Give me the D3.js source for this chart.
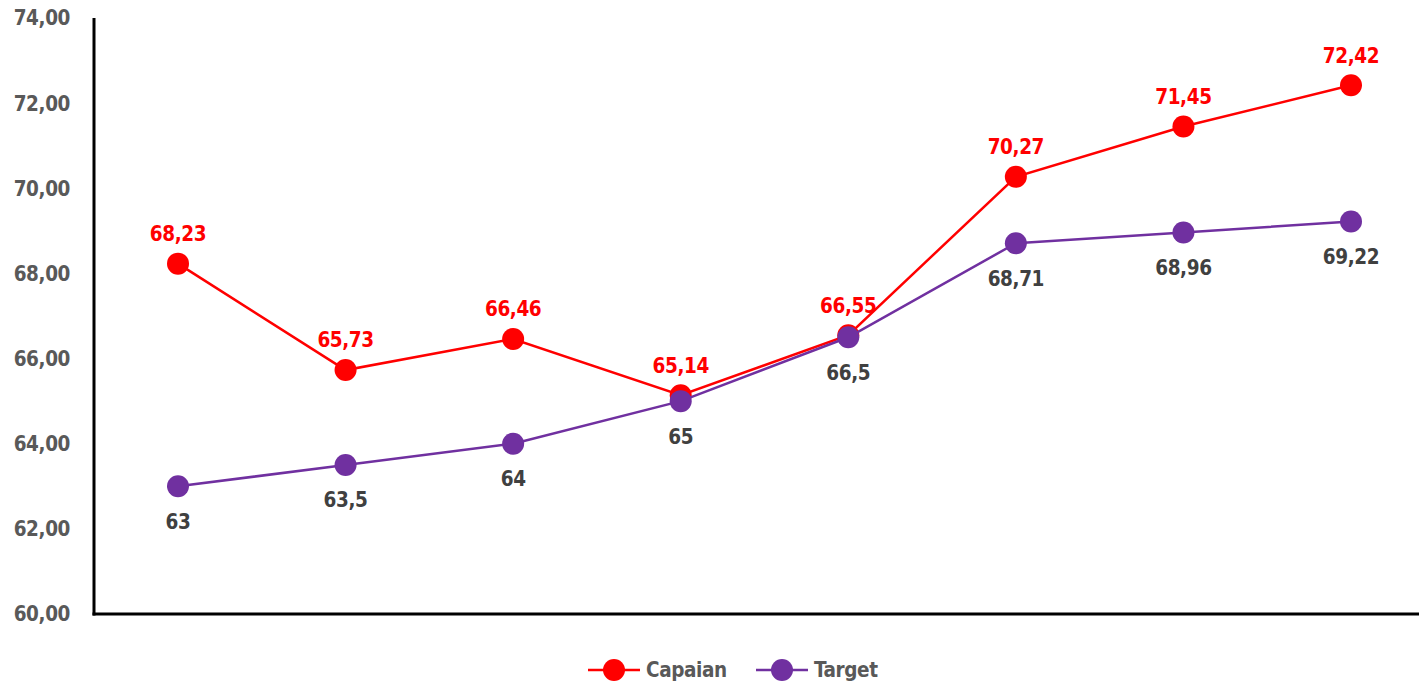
<!DOCTYPE html>
<html>
<head>
<meta charset="utf-8">
<script src="https://cdn.jsdelivr.net/npm/d3@7"></script>
<style>
  html, body { margin: 0; padding: 0; background: #fff; }
  svg { display: block; font-family: "DejaVu Sans Condensed", "DejaVu Sans", sans-serif; }
  svg text { letter-spacing: -0.4px; }
</style>
</head>
<body>
<div id="chart"></div>
<script>
// data
const periods = ['P1', 'P2', 'P3', 'P4', 'P5', 'P6', 'P7', 'P8'];
const capaian = [68.23, 65.73, 66.46, 65.14, 66.55, 70.27, 71.45, 72.42];
const target = [63, 63.5, 64, 65, 66.5, 68.71, 68.96, 69.22];
const yTicks = [60, 62, 64, 66, 68, 70, 72, 74];
const seriesNames = ['Capaian', 'Target'];

const width = 1419;
const height = 685;
const margin = {top: 18, right: -16, bottom: 71, left: 94};
const fontSize = 20.5;

const svg = d3.select('#chart').append('svg')
    .attr('width', width)
    .attr('height', height);

const x = d3.scalePoint()
    .domain(periods)
    .range([margin.left + 84, width - margin.right - 84]);

const y = d3.scaleLinear()
    .domain([60, 74])
    .range([height - margin.bottom, margin.top]);

const fmt = (v) => v.toFixed(2).replace('.', ',');
const fmtLabel = (v) => String(v).replace('.', ',');

// y tick labels
svg.append('g')
    .selectAll('text')
    .data(yTicks)
    .join('text')
    .attr('x', 70)
    .attr('y', (d) => y(d))
    .attr('dy', '0.36em')
    .attr('text-anchor', 'end')
    .attr('fill', '#595959')
    .attr('font-size', fontSize)
    .attr('font-weight', 'bold')
    .text(fmt);

// axes lines
svg.append('line')
    .attr('x1', margin.left).attr('x2', margin.left)
    .attr('y1', margin.top).attr('y2', y(60) + 1.5)
    .attr('stroke', '#000').attr('stroke-width', 3);
svg.append('line')
    .attr('x1', margin.left - 1.5).attr('x2', width)
    .attr('y1', y(60)).attr('y2', y(60))
    .attr('stroke', '#000').attr('stroke-width', 3);

const line = d3.line()
    .x((d, i) => x(periods[i]))
    .y((d) => y(d));

const series = [
  {name: seriesNames[0], values: capaian, color: '#ff0000', labelColor: '#ff0000', above: true},
  {name: seriesNames[1], values: target, color: '#7030a0', labelColor: '#404040', above: false}
];

series.forEach((s) => {
  svg.append('path')
      .datum(s.values)
      .attr('fill', 'none')
      .attr('stroke', s.color)
      .attr('stroke-width', 2.5)
      .attr('d', line);
  svg.append('g')
      .selectAll('circle')
      .data(s.values)
      .join('circle')
      .attr('cx', (d, i) => x(periods[i]))
      .attr('cy', (d) => y(d))
      .attr('r', 11)
      .attr('fill', s.color);
});

series.forEach((s) => {
  svg.append('g')
      .selectAll('text')
      .data(s.values)
      .join('text')
      .attr('x', (d, i) => x(periods[i]))
      .attr('y', (d) => y(d) + (s.above ? -30 : 35))
      .attr('dy', '0.36em')
      .attr('text-anchor', 'middle')
      .attr('fill', s.labelColor)
      .attr('font-size', fontSize)
      .attr('font-weight', 'bold')
      .text(fmtLabel);
});

// legend
const legend = svg.append('g').attr('transform', 'translate(0,670)');
const legendItems = [
  {s: series[0], x0: 588},
  {s: series[1], x0: 756}
];
legendItems.forEach(({s, x0}) => {
  legend.append('line')
      .attr('x1', x0).attr('x2', x0 + 52)
      .attr('y1', 0).attr('y2', 0)
      .attr('stroke', s.color).attr('stroke-width', 2.5);
  legend.append('circle')
      .attr('cx', x0 + 26).attr('cy', 0).attr('r', 11)
      .attr('fill', s.color);
  legend.append('text')
      .attr('x', x0 + 58).attr('y', 0)
      .attr('dy', '0.36em')
      .attr('fill', '#595959')
      .attr('font-size', fontSize)
      .attr('font-weight', 'bold')
      .text(s.name);
});
</script>
</body>
</html>
